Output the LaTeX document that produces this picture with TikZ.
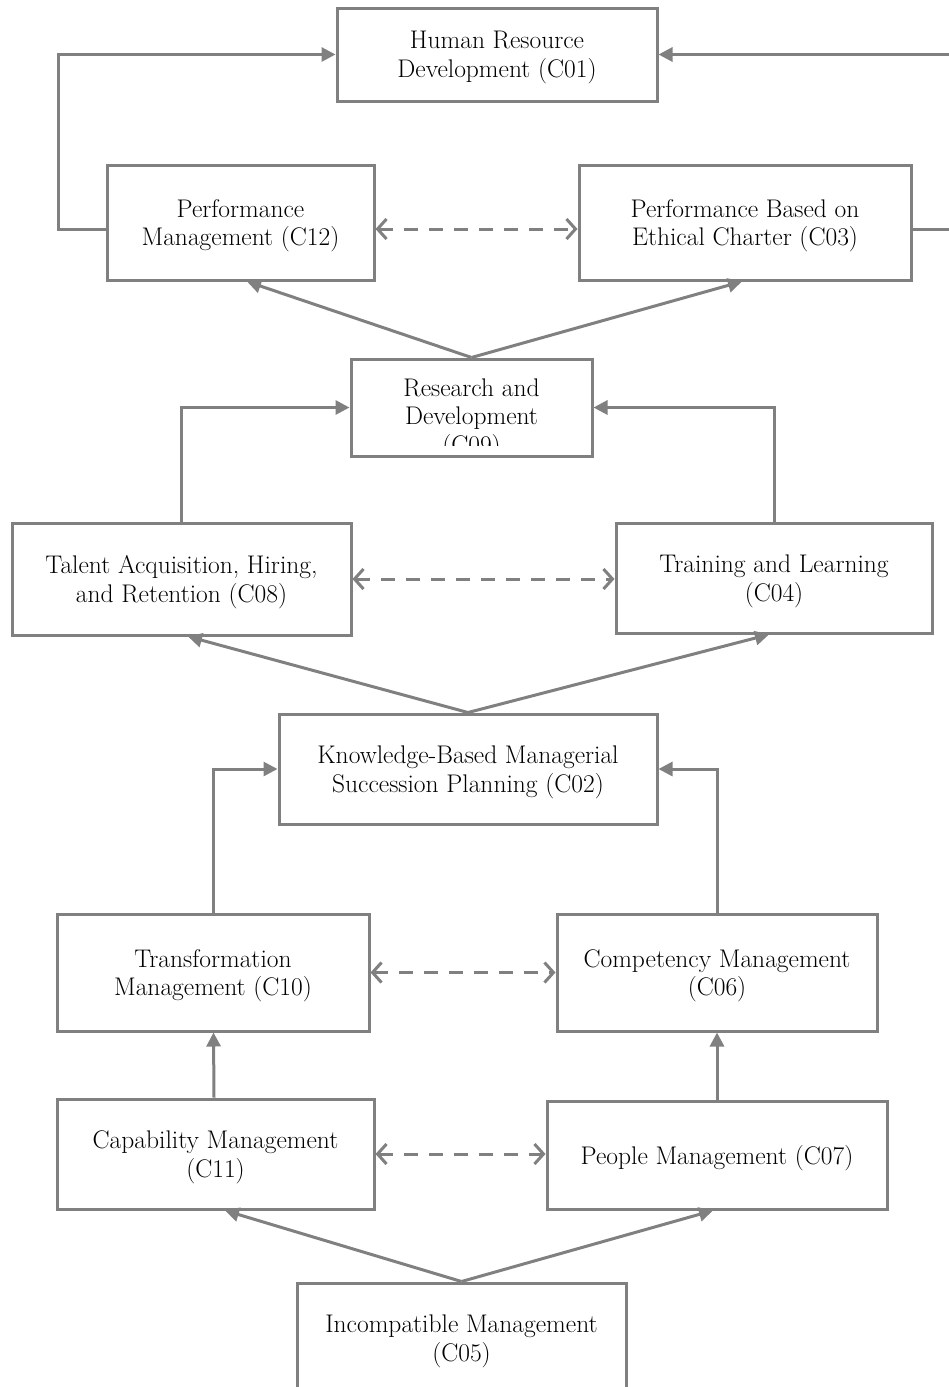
\documentclass[tikz,border=0pt]{standalone}
\usetikzlibrary{arrows.meta,calc}
\definecolor{lg}{HTML}{808080}
\begin{document}
\begin{tikzpicture}[x=1pt,y=-1pt,
  txt/.style={font=\fontsize{25.5}{28.8}\selectfont, align=center, text=black, text depth=0pt},
  box/.style={draw=lg, line width=3pt, fill=white, inner sep=0pt, txt},
  conn/.style={draw=lg, line width=3pt, -{Triangle[length=14pt,width=14pt]}},
  dconn/.style={draw=lg, line width=3pt, dash pattern=on 14pt off 11pt,
    {Straight Barb[length=9pt,width=20pt]}-{Straight Barb[length=9pt,width=20pt]}}]
\useasboundingbox (0,0) rectangle (949,1387);
\clip (0,0) rectangle (949,1387);

% boxes
\node[box, minimum width=320pt, minimum height=93pt] (c01) at (497,54.5) {Human Resource\\Development (C01)};
\node[box, minimum width=267pt, minimum height=115pt] (c12) at (240.5,222.5) {Performance\\Management (C12)};
\node[box, minimum width=332pt, minimum height=115pt] (c03) at (745,222.5) {Performance Based on\\Ethical Charter (C03)};
\node[box, minimum width=241pt, minimum height=97pt] (c09) at (471.5,407.5) {};
\begin{scope}
  \clip (353,361) rectangle (590,445);
  \node[txt] (c09t) at (471.5,416) {Research and\\Development\\(C09)};
\end{scope}
\node[box, minimum width=339pt, minimum height=112pt] (c08) at (181.5,579) {Talent Acquisition, Hiring,\\and Retention (C08)};
\node[box, minimum width=316pt, minimum height=110pt] (c04) at (774,578) {Training and Learning\\(C04)};
\node[box, minimum width=378pt, minimum height=110pt] (c02) at (468,769) {Knowledge-Based Managerial\\Succession Planning (C02)};
\node[box, minimum width=312pt, minimum height=117pt] (c10) at (213,972.5) {Transformation\\Management (C10)};
\node[box, minimum width=320pt, minimum height=117pt] (c06) at (717,972.5) {Competency Management\\(C06)};
\node[box, minimum width=317pt, minimum height=110pt] (c11) at (215.5,1154) {Capability Management\\(C11)};
\node[box, minimum width=340pt, minimum height=108pt] (c07) at (717,1155) {People Management (C07)};
\node[box, minimum width=329pt, minimum height=137pt] (c05) at (461.5,1351.5) {};
\node[txt] (c05t) at (461.5,1338) {Incompatible Management\\(C05)};

% top loop connectors
\draw[conn] ([yshift=-6.5pt]c12.west) -- ++(-47,0) |- (c01.west);
\draw[conn] ([yshift=-7pt]c03.east) -- ++(60,0) |- (c01.east);
\draw[dconn] ([yshift=-6.5pt]c12.east) -- ([yshift=-6.5pt]c03.west);

% C09 fan
\draw[conn] (c09.north) -- ([xshift=6.5pt]c12.south);
\draw[conn] (c09.north) -- ([xshift=-3pt]c03.south);

% C08/C04 to C09
\draw[conn] (c08.north) |- (c09.west);
\draw[conn] (c04.north) |- (c09.east);
\draw[dconn] (c08.east) -- (c04.west |- c08.east);

% C02 fan
\draw[conn] (c02.north) -- ([xshift=6.5pt]c08.south);
\draw[conn] (c02.north) -- ([xshift=-5pt]c04.south);

% C10/C06 to C02
\draw[conn] (c10.north) |- (c02.west);
\draw[conn] (c06.north) |- (c02.east);
\draw[dconn] (c10.east) -- (c06.west |- c10.east);

% C11/C07 up
\draw[conn] ([xshift=-1.5pt]c11.north) -- ([xshift=0.5pt]c10.south);
\draw[conn] (c07.north) -- (c06.south);
\draw[dconn] (c11.east) -- (c07.west |- c11.east);

% C05 fan
\draw[conn] (c05.north) -- ([xshift=9.5pt]c11.south);
\draw[conn] (c05.north) -- ([xshift=-4pt]c07.south);
\end{tikzpicture}
\end{document}
